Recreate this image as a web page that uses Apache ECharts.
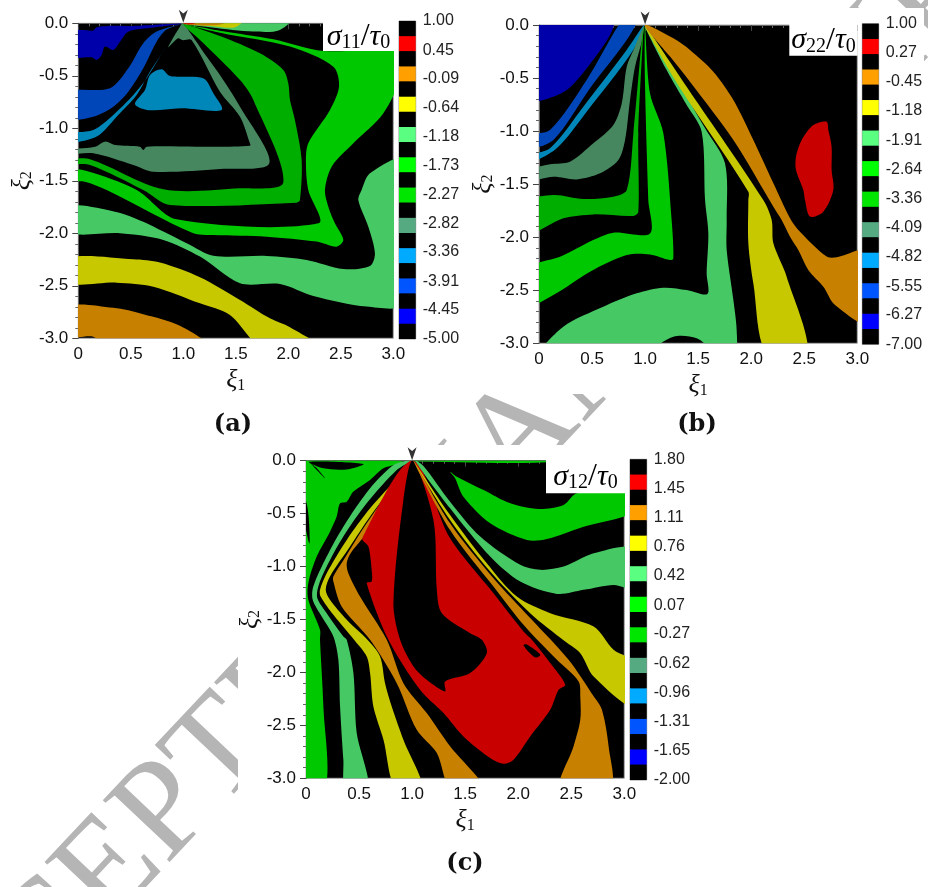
<!DOCTYPE html>
<html><head><meta charset="utf-8">
<style>html,body{margin:0;padding:0;background:#fff}#c{width:928px;height:887px}</style>
<script src="https://cdn.jsdelivr.net/npm/echarts@6/dist/echarts.min.js"></script>
</head><body><div id="c"></div>
<script>
// field colours
const RED='#c80000',ORANGE='#c88000',YELLOW='#c8c800',LIGHT='#46c864',BRIGHT='#00c800',DARK='#00ae00',TEAL='#46875f',CYAN='#0087b9',BLUE='#0046b9',NAVY='#0000aa',BLACK='#000000';
// colour bar colours, top to bottom
const barColors=['#000','#ff0000','#000','#ffa000','#000','#ffff00','#000','#5aff82','#000','#00ff00','#000','#00e600','#000','#55aa82','#000','#00aaff','#000','#0055ff','#000','#0000ff','#000'];
const ticksA=[1.00,0.45,-0.09,-0.64,-1.18,-1.73,-2.27,-2.82,-3.36,-3.91,-4.45,-5.00];
const ticksB=[1.00,0.27,-0.45,-1.18,-1.91,-2.64,-3.36,-4.09,-4.82,-5.55,-6.27,-7.00];
const ticksC=[1.80,1.45,1.11,0.76,0.42,0.07,-0.27,-0.62,-0.96,-1.31,-1.65,-2.00];

// panel (a) contour bands in (xi1, xi2)
const aNavy=[[0,-0.08],[0.06,-0.063],[0.14,-0.07],[0.175,-0.038],[0.27,-0.025],[0.52,-0.025],[0.985,-0.003],[0.65,-0.048],[0.476,-0.08],[0.397,-0.175],[0.333,-0.254],[0.254,-0.222],[0.222,-0.302],[0.175,-0.349],[0.127,-0.324],[0,-0.317]];
const aBlue=[[0,-0.657],[0.302,-0.619],[0.476,-0.429],[0.619,-0.19],[0.746,-0.079],[0.985,-0.006],[0.84,-0.06],[0.746,-0.175],[0.619,-0.429],[0.476,-0.651],[0.333,-0.794],[0.143,-0.889],[0,-0.905]];
const aCyan=[[0,-1.054],[0.143,-1.016],[0.333,-0.873],[0.524,-0.683],[0.651,-0.524],[0.778,-0.317],[0.985,-0.006],[0.841,-0.222],[0.683,-0.46],[0.556,-0.683],[0.365,-0.889],[0.175,-1.079],[0,-1.137]];
const aBlob=[[0.54,-0.768],[0.635,-0.635],[0.683,-0.492],[0.794,-0.438],[0.873,-0.502],[1.19,-0.524],[1.286,-0.667],[1.365,-0.825],[0.985,-0.81],[0.778,-0.825],[0.651,-0.825]];
const aTeal=[[0,-1.206],[0.159,-1.175],[0.254,-1.127],[0.349,-1.159],[0.587,-1.175],[0.619,-1.206],[0.651,-1.175],[1.159,-1.175],[1.635,-1.165],[1.629,-1.127],[1.54,-0.889],[1.349,-0.651],[1.079,-0.159],[0.994,-0.16],[0.95,-0.143],[0.857,-0.228],[0.984,-0.006],[1.0,0],[1.222,-0.317],[1.349,-0.492],[1.54,-0.794],[1.819,-1.333],[1.349,-1.387],[0.714,-1.413],[0.524,-1.349],[0.143,-1.238],[0,-1.244]];
const aDark=[[0,-1.302],[0.111,-1.295],[0.81,-1.581],[1.54,-1.571],[1.952,-1.517],[1.667,-0.73],[1.54,-0.54],[1.159,-0.159],[1.032,-0.048],[1,-0.006],[1.349,-0.121],[1.73,-0.286],[1.952,-0.444],[2,-0.571],[2.016,-0.73],[2.063,-0.921],[2.127,-1.302],[2.111,-1.683],[2.079,-1.708],[0.873,-1.73],[0.619,-1.587],[0.111,-1.349],[0,-1.34]];
const aBright=[[1,-0.006],[1.349,-0.07],[1.857,-0.152],[2.333,-0.263],[3,-0.263],[3,-0.444],[2.905,-0.857],[2.619,-1.143],[2.413,-1.365],[2.349,-1.587],[2.381,-1.746],[2.444,-1.905],[2.524,-2.063],[2.46,-2.127],[2.27,-2.079],[1.794,-2.032],[1.286,-2.016],[1.095,-2.0],[0.27,-1.587],[0.063,-1.508],[0,-1.492],[0,-1.397],[0.063,-1.403],[0.556,-1.587],[0.937,-1.867],[2.286,-1.905],[2.19,-1.587],[2.168,-1.333],[2.19,-1.143],[2.397,-0.825],[2.483,-0.603],[2.429,-0.413],[2.016,-0.222],[1.349,-0.089]];
const aLight=[[0,-1.746],[0.349,-1.794],[0.619,-1.889],[0.81,-1.984],[1.032,-2.095],[1.286,-2.213],[1.794,-2.216],[2.175,-2.254],[2.524,-2.34],[2.778,-2.311],[2.825,-2.19],[2.762,-1.937],[2.667,-1.683],[2.698,-1.587],[2.778,-1.429],[3,-1.302],[3,-2.667],[2.746,-2.698],[2.238,-2.597],[1.921,-2.483],[1.54,-2.476],[1.159,-2.222],[0.81,-2.063],[0.397,-2.0],[0,-1.99]];
const aLightRay=[[1,0],[1.73,0],[2.08,0],[1.92,-0.063],[1.667,-0.079],[1.27,-0.04]];
const aYellowRay=[[1,0],[1.35,-0.01],[1.64,0],[1.5,-0.035],[1.3,-0.03]];
const aOrangeRay=[[1,0],[1.54,0],[1.35,-0.012]];
const aRedRay=[[1,0],[1.25,0],[1.1,-0.005]];
const aYellow=[[0,-2.238],[0.524,-2.248],[0.778,-2.279],[1.159,-2.419],[1.54,-2.635],[1.825,-2.81],[2.016,-2.895],[2.317,-3],[1.762,-3],[1.444,-2.778],[1.159,-2.667],[0.714,-2.508],[0.365,-2.47],[0,-2.47]];
const aOrange=[[0,-2.70],[0.333,-2.71],[0.619,-2.77],[0.968,-2.88],[1.27,-3],[0.3,-3],[0.143,-2.985],[0,-2.978]];

// panel (b)
const bNavy=[[0,0],[0.694,0],[0.685,-0.063],[0.45,-0.408],[0.261,-0.613],[0.041,-0.707],[0,-0.713]];
const bBlue=[[0,-1.043],[0.104,-0.99],[0.449,-0.518],[0.826,0],[0.911,0],[0.481,-0.597],[0.135,-1.084],[0,-1.162]];
const bCyan=[[0,-1.232],[0.104,-1.162],[0.418,-0.77],[0.826,-0.236],[0.99,0],[0.889,-0.236],[0.449,-0.817],[0.167,-1.162],[0,-1.304]];
const bTeal=[[0,-1.373],[0.104,-1.313],[0.292,-1.288],[0.512,-1.115],[0.701,-0.942],[0.78,-0.738],[0.827,-0.393],[0.905,-0.204],[0.99,-0.01],[0.968,-0.157],[0.905,-0.393],[0.858,-0.707],[0.811,-1.084],[0.748,-1.272],[0.575,-1.398],[0.355,-1.455],[0.135,-1.43],[0,-1.467]];
const bDark=[[0,-1.665],[0.135,-1.602],[0.418,-1.64],[0.701,-1.618],[0.827,-1.555],[0.89,-1.02],[0.983,-0.016],[0.936,-1.02],[0.936,-1.76],[0.889,-1.8],[0.512,-1.785],[0.23,-1.822],[0,-1.964]];
const bBright=[[0.999,-0.01],[1.046,-0.644],[1.172,-1.021],[1.25,-1.838],[1.266,-2.2],[1.235,-2.215],[1.046,-2.162],[0.826,-2.168],[0.481,-2.325],[0.135,-2.545],[0,-2.64],[0,-2.294],[0.198,-2.184],[0.512,-2.026],[0.701,-1.957],[1.046,-1.964],[1.03,-1.649],[0.999,-0.55]];
const bLight=[[0.999,-0.01],[1.235,-0.361],[1.439,-0.754],[1.565,-0.974],[1.753,-1.304],[1.769,-1.838],[1.769,-2.121],[1.832,-2.592],[1.863,-2.875],[1.847,-3],[1.69,-3],[1.486,-2.953],[1.266,-2.938],[0.952,-3],[0.025,-3],[0.229,-2.843],[0.606,-2.655],[0.921,-2.529],[1.172,-2.476],[1.392,-2.498],[1.587,-2.535],[1.58,-2.341],[1.596,-1.964],[1.565,-1.649],[1.533,-1.005],[1.392,-0.754],[1.203,-0.424]];
const bYellow=[[0.999,-0.01],[1.423,-0.628],[2.114,-1.649],[2.193,-1.838],[2.209,-2.058],[2.334,-2.372],[2.529,-3],[2.146,-3],[2.02,-2.435],[1.973,-2.058],[1.973,-1.649],[1.973,-1.571],[1.423,-0.738],[1.235,-0.44]];
const bOrange=[[0.999,0],[1.266,-0.126],[1.423,-0.236],[1.643,-0.44],[1.832,-0.707],[2.02,-1.084],[2.209,-1.492],[2.366,-1.822],[2.444,-1.932],[2.711,-2.183],[2.806,-2.19],[3,-2.13],[3,-2.812],[2.79,-2.639],[2.68,-2.466],[2.538,-2.309],[2.444,-2.121],[2.366,-1.995],[2.287,-1.838],[2.209,-1.712],[1.832,-1.084],[1.423,-0.534],[1.235,-0.298]];
const bRed=[[2.711,-0.911],[2.586,-0.943],[2.476,-1.084],[2.422,-1.241],[2.422,-1.367],[2.491,-1.555],[2.507,-1.649],[2.554,-1.806],[2.68,-1.759],[2.774,-1.555],[2.758,-1.367],[2.758,-1.147],[2.727,-0.99]];

// panel (c)
const cGreen=[[0,0],[0.918,-0.009],[0.73,-0.072],[0.604,-0.182],[0.447,-0.292],[0.384,-0.387],[0.321,-0.403],[0.289,-0.528],[0.226,-0.67],[0.101,-0.906],[0.022,-1.157],[0.022,-1.314],[0.132,-1.597],[0.132,-1.692],[0.164,-2.321],[0.179,-3],[0,-3]];
const cTopLine=[[1,0],[2.37,0],[2.37,-0.008],[1,-0.008]];
const cSliver1=[[0.03,-0.01],[0.54,-0.03],[0.384,-0.082],[0.164,-0.072]];
const cSliver2=[[0.03,-0.01],[0.179,-0.167],[0.1,-0.07]];
const cSliver3=[[0,-0.12],[0.03,-0.78],[0.012,-0.43]];
const cLightL=[[0.95,0],[0.824,-0.041],[0.604,-0.261],[0.352,-0.623],[0.195,-0.906],[0.069,-1.189],[0.063,-1.314],[0.148,-1.472],[0.258,-1.66],[0.305,-1.881],[0.321,-2.321],[0.352,-2.824],[0.374,-3],[0.588,-3],[0.478,-2.572],[0.447,-2.006],[0.384,-1.692],[0.352,-1.66],[0.195,-1.44],[0.107,-1.299],[0.116,-1.189],[0.195,-1.0],[0.352,-0.717],[0.572,-0.403],[0.855,-0.088],[0.997,0]];
const cYellowL=[[0.997,0],[0.887,-0.135],[0.604,-0.45],[0.384,-0.748],[0.195,-1.063],[0.132,-1.22],[0.138,-1.283],[0.258,-1.456],[0.453,-1.692],[0.572,-1.849],[0.604,-2.006],[0.635,-2.321],[0.73,-2.635],[0.846,-3],[1.097,-3],[0.918,-2.635],[0.808,-2.321],[0.745,-2.101],[0.698,-1.849],[0.579,-1.692],[0.384,-1.503],[0.226,-1.314],[0.186,-1.22],[0.226,-1.094],[0.415,-0.811],[0.604,-0.528]];
const cOrangeL=[[0.997,0],[0.792,-0.277],[0.541,-0.638],[0.384,-0.89],[0.258,-1.094],[0.258,-1.142],[0.336,-1.377],[0.604,-1.692],[0.855,-2.101],[1.044,-2.541],[1.233,-2.761],[1.365,-3],[1.679,-3],[1.358,-2.698],[1.138,-2.384],[0.918,-2.101],[0.761,-1.692],[0.509,-1.283],[0.399,-1.063],[0.384,-0.969],[0.421,-0.874],[0.572,-0.686],[0.824,-0.324]];
const cRed=[[1.003,0],[1.358,-0.733],[1.767,-1.252],[2.05,-1.613],[2.129,-1.692],[2.302,-1.912],[2.443,-2.116],[2.381,-2.164],[2.302,-2.352],[2.113,-2.604],[1.956,-2.824],[1.862,-2.862],[1.736,-2.808],[1.484,-2.604],[1.296,-2.384],[1.075,-2.164],[0.777,-1.692],[0.572,-1.157],[0.619,-1.142],[0.619,-1.031],[0.588,-0.811],[0.531,-0.733]];
const cHole=[[1.006,0],[1.201,-0.56],[1.233,-1.22],[1.28,-1.44],[1.547,-1.629],[1.657,-1.692],[1.704,-1.818],[1.547,-2.006],[1.311,-2.085],[1.311,-2.179],[1.138,-2.069],[1.013,-1.943],[0.887,-1.692],[0.824,-1.346],[0.918,-0.371]];
const cDash=[[2.05,-1.745],[2.082,-1.736],[2.208,-1.833],[2.16,-1.858]];
const cOrangeR=[[1.013,0],[1.358,-0.591],[1.767,-1.11],[2.113,-1.487],[2.475,-1.881],[2.711,-2.226],[2.789,-2.352],[2.852,-2.698],[2.868,-3],[2.396,-3],[2.522,-2.698],[2.585,-2.447],[2.585,-2.226],[2.569,-2.085],[2.365,-1.881],[2.05,-1.55],[1.767,-1.189],[1.358,-0.654]];
const cYellowR=[[1.013,0],[1.358,-0.513],[1.704,-0.969],[1.987,-1.283],[2.302,-1.44],[2.711,-1.566],[2.899,-1.786],[3,-1.912],[3,-2.336],[2.711,-2.038],[2.585,-1.818],[2.443,-1.708],[2.113,-1.44],[1.736,-1.047],[1.358,-0.56]];
const cLightR=[[1.028,0],[1.107,-0.05],[1.358,-0.387],[1.642,-0.717],[2.019,-0.984],[2.208,-1.031],[2.428,-1.0],[2.711,-0.874],[3,-0.827],[3,-1.204],[2.899,-1.173],[2.616,-1.22],[2.365,-1.258],[2.019,-1.142],[1.736,-0.906],[1.358,-0.45]];
const cBrightR=[[1.358,-0.104],[1.406,-0.167],[1.484,-0.34],[1.736,-0.591],[2.082,-0.748],[2.27,-0.739],[2.616,-0.623],[3,-0.481],[3,-0.308],[2.553,-0.308],[2.428,-0.418],[2.192,-0.456],[1.925,-0.403],[1.673,-0.277],[1.421,-0.151]];

const panels=[
 {g:{left:78.3,top:23.3,width:315,height:315},b:{left:399,top:21,width:16.7,height:318},ticks:ticksA,sub:'11',cap:'(a)',capX:233,capY:425,box:[323,23,71,28],
  bands:[[aNavy,NAVY],[aBlue,BLUE],[aCyan,CYAN],[aBlob,CYAN],[aTeal,TEAL],[aDark,DARK],[aBright,BRIGHT],[aLight,LIGHT],[aLightRay,LIGHT],[aYellowRay,YELLOW],[aOrangeRay,ORANGE],[aRedRay,RED],[aYellow,YELLOW],[aOrange,ORANGE]]},
 {g:{left:539,top:25,width:318.3,height:318.3},b:{left:862.3,top:23.7,width:16.4,height:320.6},ticks:ticksB,sub:'22',cap:'(b)',capX:697,capY:425,box:[789.3,25,68.4,30.7],
  bands:[[bNavy,NAVY],[bBlue,BLUE],[bCyan,CYAN],[bTeal,TEAL],[bDark,DARK],[bBright,BRIGHT],[bLight,LIGHT],[bYellow,YELLOW],[bOrange,ORANGE],[bRed,RED]]},
 {g:{left:306,top:460.7,width:318.3,height:317.6},b:{left:630,top:459.3,width:16.7,height:320.7},ticks:ticksC,sub:'12',cap:'(c)',capX:465,capY:864,box:[546,460.7,79,32.6],
  bands:[[cGreen,BRIGHT],[cTopLine,BRIGHT],[cSliver1,BLACK],[cSliver2,BLACK],[cSliver3,BLACK],[cLightL,LIGHT],[cYellowL,YELLOW],[cOrangeL,ORANGE],[cRed,RED],[cHole,BLACK],[cDash,BLACK],[cOrangeR,ORANGE],[cYellowR,YELLOW],[cLightR,LIGHT],[cBrightR,BRIGHT]]}
];

// vertices on the frame are carried just past it, so the smoothed outline
// meets the frame squarely; the series clip trims the overhang
const pastFrame=q=>{
  let x=q[0],y=q[1];
  const apex=Math.abs(x-1)<0.1;
  const onTop=y>=0&&!apex;
  if(x<=0)x=-0.1; else if(x>=3)x=3.1;
  if(y<=-3)y=-3.1; else if(onTop)y=0.1;
  return [x,y];
};

const LABEL='Liberation Sans', SERIF='Liberation Serif';
const grids=[],xAxes=[],yAxes=[],series=[],gfx=[];
const axisGray='#666';
const sym={fontFamily:SERIF,fontStyle:'italic',fontSize:30,color:'#111'};
const symSub={fontFamily:SERIF,fontSize:20,color:'#111',verticalAlign:'bottom'};

// watermark behind the figures, masked by the white figure areas
gfx.push({type:'text',z:-3,x:-64,y:1158,rotation:46.7*Math.PI/180,style:{text:'ACCEPTED MANUSCRIPT',font:'400 139px "Liberation Serif"',fill:'#b5b5b5',textAlign:'left',textVerticalAlign:'bottom'}});
gfx.push({type:'rect',z:-2,shape:{x:0,y:8,width:924,height:386},style:{fill:'#fff'}});
gfx.push({type:'rect',z:-2,shape:{x:238,y:445,width:690,height:442},style:{fill:'#fff'}});

panels.forEach((p,i)=>{
  const gi=grids.length;
  grids.push(Object.assign({show:true,backgroundColor:'#000',borderColor:'#aaa',borderWidth:1},p.g));
  const common={type:'value',min:0,max:3,interval:0.5,splitNumber:5,silent:true,axisLine:{show:true,lineStyle:{color:axisGray,width:1}},
    axisTick:{show:true,length:6,lineStyle:{color:'#444'}},minorTick:{show:true,splitNumber:5,length:3,lineStyle:{color:'#666'}},splitLine:{show:false},minorSplitLine:{show:false}};
  xAxes.push(Object.assign({},common,{gridIndex:gi,position:'bottom',name:'{i|ξ}{s|1}',nameLocation:'middle',nameGap:29,
    nameTextStyle:{rich:{i:{fontFamily:SERIF,fontStyle:'italic',fontSize:26,color:'#111'},s:{fontFamily:SERIF,fontSize:16,color:'#111',verticalAlign:'bottom'}}},
    axisLabel:{margin:8,fontFamily:LABEL,fontSize:17,color:'#111',formatter:v=>v===0?'0':v.toFixed(1)}}));
  yAxes.push(Object.assign({},common,{gridIndex:gi,min:-3,max:0,name:'{i|ξ}{s|2}',nameLocation:'middle',nameGap:38,nameRotate:90,
    nameTextStyle:{rich:{i:{fontFamily:SERIF,fontStyle:'italic',fontSize:26,color:'#111'},s:{fontFamily:SERIF,fontSize:16,color:'#111',verticalAlign:'bottom'}}},
    axisLabel:{margin:10,fontFamily:LABEL,fontSize:17,color:'#111',formatter:v=>v.toFixed(1)}}));
  series.push({type:'custom',coordinateSystem:'cartesian2d',xAxisIndex:gi,yAxisIndex:gi,clip:true,silent:true,z:2,
    data:p.bands.map((b,k)=>[k]),
    renderItem:(params,api)=>{const b=p.bands[api.value(0)];return {type:'polygon',shape:{points:b[0].map(q=>api.coord(pastFrame(q))),smooth:0.3},style:{fill:b[1]}};}});
  series.push({type:'scatter',xAxisIndex:gi,yAxisIndex:gi,clip:false,silent:true,z:5,data:[[1,0]],symbol:'path://M0 14L-5 0L0 4L5 0Z',symbolSize:[9,13],symbolKeepAspect:false,symbolOffset:[0,-7],itemStyle:{color:'#000'}});

  // colour bar
  const bi=grids.length;
  const hi=p.ticks[0],lo=p.ticks[p.ticks.length-1];
  grids.push(Object.assign({show:true,backgroundColor:'#000',borderColor:'#999',borderWidth:1},p.b));
  xAxes.push({type:'value',gridIndex:bi,min:0,max:1,show:false});
  yAxes.push({type:'value',gridIndex:bi,min:lo,max:hi,position:'right',silent:true,axisLine:{show:false},axisTick:{show:false},splitLine:{show:false},
    axisLabel:{margin:7,fontFamily:LABEL,fontSize:16,color:'#222',customValues:p.ticks,formatter:v=>v.toFixed(2)}});
  const step=(hi-lo)/barColors.length;
  series.push({type:'custom',coordinateSystem:'cartesian2d',xAxisIndex:bi,yAxisIndex:bi,silent:true,z:2,
    data:barColors.map((c,k)=>[k]),
    renderItem:(params,api)=>{const k=api.value(0);const a=api.coord([0,hi-k*step]),b=api.coord([1,hi-(k+1)*step]);
      return {type:'rect',shape:{x:a[0],y:a[1],width:b[0]-a[0],height:b[1]-a[1]},style:{fill:barColors[k]}};}});

  // title box and caption
  gfx.push({type:'rect',z:50,shape:{x:p.box[0],y:p.box[1]-1,width:p.box[2],height:p.box[3]+1},style:{fill:'#fff'}});
  gfx.push({type:'text',z:51,x:p.box[0]+p.box[2]/2,y:p.box[1]+p.box[3]/2,style:{text:'{i|σ}{s|'+p.sub+'}{r|/}{i|τ}{s|0}',rich:{i:sym,s:symSub,r:{fontFamily:SERIF,fontSize:32,color:'#111'}},textAlign:'center',textVerticalAlign:'middle'}});
  gfx.push({type:'text',z:51,x:p.capX,y:p.capY,style:{text:p.cap,font:'700 24px "DejaVu Serif"',fill:'#111',textAlign:'center',textVerticalAlign:'middle'}});
});

const chart=echarts.init(document.getElementById('c'),null,{renderer:'canvas'});
chart.setOption({animation:false,backgroundColor:'#fff',grid:grids,xAxis:xAxes,yAxis:yAxes,series:series,graphic:{elements:gfx}});
</script>
</body></html>
